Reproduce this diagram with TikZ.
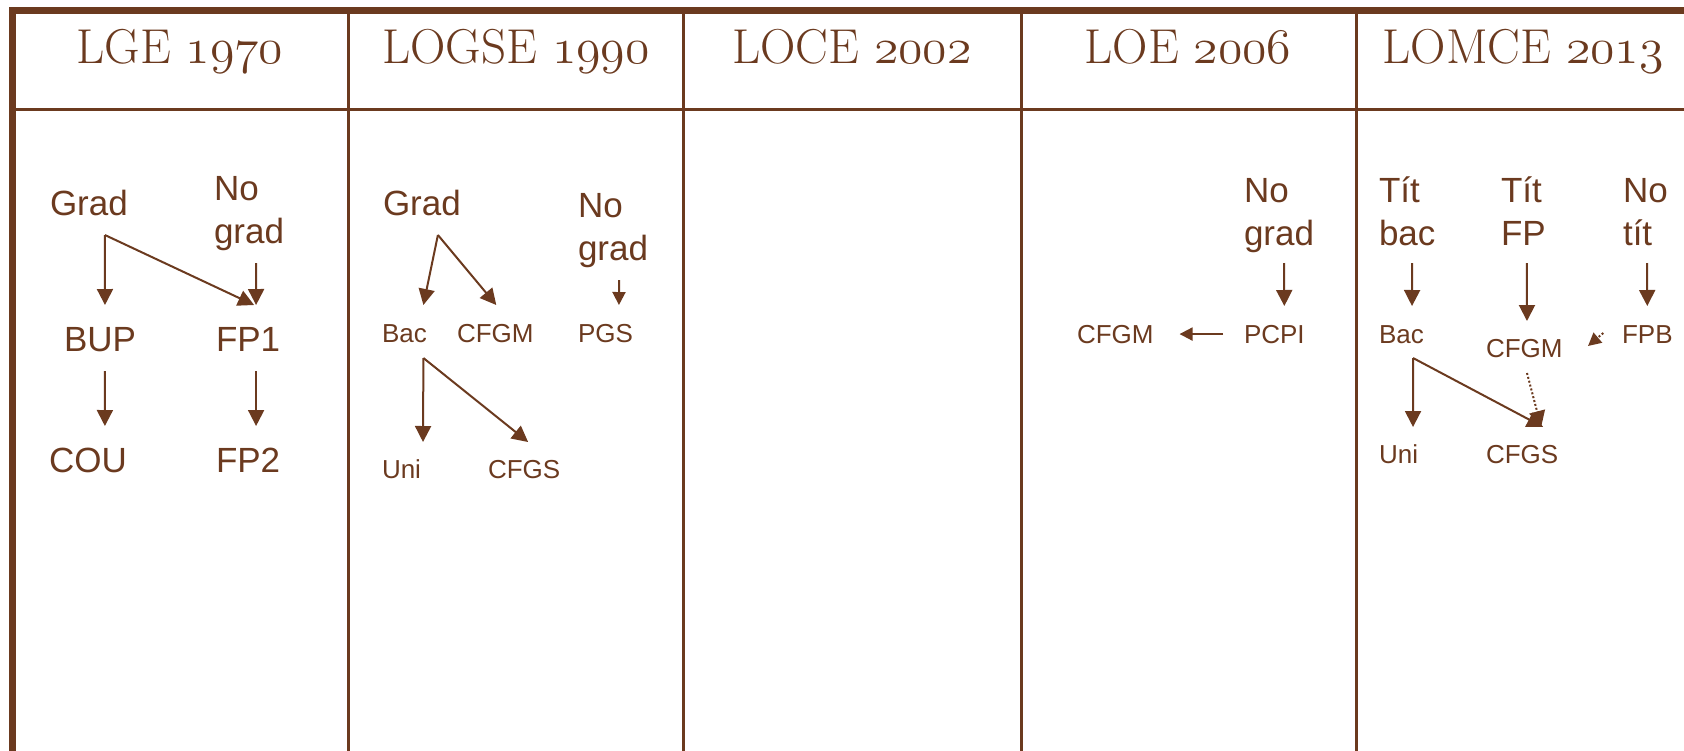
\documentclass[tikz,border=0pt]{standalone}
\usepackage{fontspec}
\setsansfont{Liberation Sans}
\usepackage{xcolor}
\definecolor{colorLaw}{RGB}{107,58,31}
\usetikzlibrary{arrows.meta, positioning}
\newcommand{\oldnum}[1]{{\usefont{OML}{cmm}{m}{it}#1}}
\tikzset{
  law/.style={font=\fontsize{24.5}{28}\selectfont, anchor=base, inner sep=0pt},
  big/.style={font=\sffamily\fontsize{17.5}{21.5}\selectfont, align=left, anchor=base west, inner sep=0pt},
  small/.style={font=\sffamily\fontsize{13}{16}\selectfont, anchor=base west, inner sep=0pt},
  dotarrow/.style={dash pattern=on 1pt off 1pt},
  tiny/.style={-{Triangle[length=6.5pt,width=6.5pt]}},
}

\begin{document}
\begin{tikzpicture}[x=0.5pt, y=-0.5pt, >={Triangle[length=8pt,width=8pt]}, line width=1pt, colorLaw]
\clip (0,0) rectangle (1684,750);
% table
\draw[line width=3.5pt] (12.5,800) -- (12.5,10) -- (1700,10);
\draw[line width=1.5pt] (12.5,109) -- (1700,109);
\foreach \x in {348,683,1021,1356} \draw[line width=1.5pt] (\x,10) -- (\x,800);
% headers
\node[law] (lge) at (180,63) {LGE \oldnum{1970}};
\node[law] (logse) at (516,63) {LOGSE \oldnum{1990}};
\node[law] (loce) at (852,63) {LOCE \oldnum{2002}};
\node[law] (loe) at (1188,63) {LOE \oldnum{2006}};
\node[law] (lomce) at (1523,63) {LOMCE \oldnum{2013}};
% LGE 1970
\node[big] (grad1) at (49,215) {Grad};
\node[big] (nograd1) at (213,243) {No\\grad};
\node[big] (bup) at (63,351) {BUP};
\node[big] (fp1) at (215,351) {FP1};
\node[big] (cou) at (48,472) {COU};
\node[big] (fp2) at (215,472) {FP2};
\coordinate (fork1) at ([shift={(16,20)}]grad1.base);
\draw[->] (fork1) -- ([shift={(5,-46)}]bup.base);
\draw[->] (fork1) -- ([shift={(6,-46)}]fp1.base);
\draw[->] ([shift={(7,20)}]nograd1.base) -- ([shift={(8,-46)}]fp1.base);
\draw[->] ([shift={(5,20)}]bup.base) -- ([shift={(17,-46)}]cou.base);
\draw[->] ([shift={(8,20)}]fp1.base) -- ([shift={(8,-46)}]fp2.base);
% LOGSE 1990
\node[big] (grad2) at (382,215) {Grad};
\node[big] (nograd2) at (577,260) {No\\grad};
\node[small] (bac2) at (381,342) {Bac};
\node[small] (cfgm2) at (456,342) {CFGM};
\node[small] (pgs) at (577,342) {PGS};
\node[small] (uni2) at (381,478) {Uni};
\node[small] (cfgs2) at (487,478) {CFGS};
\coordinate (fork2) at ([shift={(16,20)}]grad2.base);
\draw[->] (fork2) -- ([shift={(19,-37)}]bac2.base);
\draw[->] (fork2) -- ([shift={(1,-37)}]cfgm2.base);
\draw[tiny] ([shift={(6,20)}]nograd2.base) -- ([shift={(13.5,-37)}]pgs.base);
\coordinate (fork3) at ([shift={(19,16)}]bac2.base);
\draw[->] (fork3) -- ([shift={(21.5,-36)}]uni2.base);
\draw[->] (fork3) -- ([shift={(4,-36)}]cfgs2.base);
% LOE 2006
\node[big] (nograd4) at (1243,245) {No\\grad};
\node[small] (pcpi) at (1243,343) {PCPI};
\node[small] (cfgm4) at (1076,343) {CFGM};
\draw[->] ([shift={(5,18)}]nograd4.base) -- ([shift={(10,-37)}]pcpi.base);
\draw[tiny, shorten <=10pt, shorten >=12.5pt] (pcpi.west) -- (cfgm4.east);
% LOMCE 2013
\node[big] (titbac) at (1378,245) {Tít\\bac};
\node[big] (titfp) at (1500,245) {Tít\\FP};
\node[big] (notit) at (1622,245) {No\\tít};
\node[small] (bac5) at (1378,343) {Bac};
\node[small] (cfgm5) at (1485,357) {CFGM};
\node[small] (fpb) at (1621,343) {FPB};
\node[small] (uni5) at (1378,463) {Uni};
\node[small] (cfgs5) at (1485,463) {CFGS};
\draw[->] ([shift={(5,18)}]titbac.base) -- ([shift={(10.6,-37)}]bac5.base);
\draw[->] ([shift={(3.6,18)}]titfp.base) -- ([shift={(2.7,-36)}]cfgm5.base);
\draw[->] ([shift={(1.6,18)}]notit.base) -- ([shift={(0,-37)}]fpb.base);
\draw[tiny, dotarrow] ([shift={(-44,-10)}]fpb.base) -- ([shift={(63.7,-11)}]cfgm5.base);
\coordinate (fork5) at ([shift={(11.6,15)}]bac5.base);
\draw[->] (fork5) -- ([shift={(14.5,-36)}]uni5.base);
\draw[->] (fork5) -- ([shift={(21,-36)}]cfgs5.base);
\draw[->, dotarrow] ([shift={(2.7,16)}]cfgm5.base) -- ([shift={(19,-36)}]cfgs5.base);
\end{tikzpicture}
\end{document}
